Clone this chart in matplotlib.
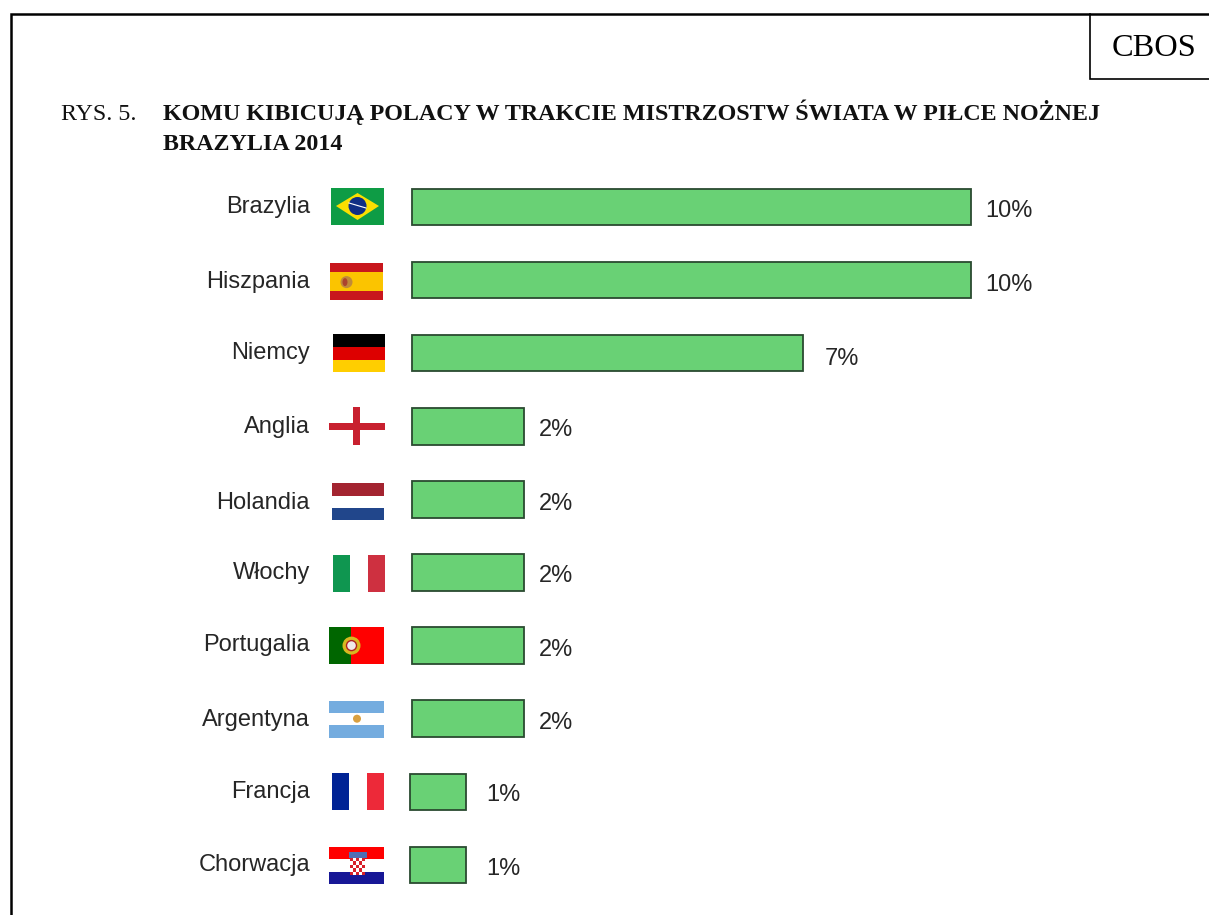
import matplotlib.pyplot as plt
from matplotlib.patches import Rectangle, Polygon, Circle, Ellipse

countries = ["Brazylia", "Hiszpania", "Niemcy", "Anglia", "Holandia",
             "Włochy", "Portugalia", "Argentyna", "Francja", "Chorwacja"]
values = [10, 10, 7, 2, 2, 2, 2, 2, 1, 1]
labels = ["10%", "10%", "7%", "2%", "2%", "2%", "2%", "2%", "1%", "1%"]

# small shifts seen in the original (pixels)
bar_shift = [0, 0, 0, 0, 0, 0, 0, 0, -2, -2]
value_gap = [14, 14, 21, 15, 15, 15, 15, 15, 18, 18]
value_dy = [4, 5, 6, 4, 5, 4, 4, 4, 3, 4]
name_dy = [0, 2, 0, 1, 4, 1, -1, 1, 0, 0]

W, H = 1209, 915
PX = 55.9
row_top = 207
row_step = 73.1
TITLE_SIZE = 17.3
LABEL_SIZE = 17

fig = plt.figure(figsize=(W / 100, H / 100), dpi=100)
fig.patch.set_facecolor("white")

# tlo w pikselach: ramka, teksty, flagi
bg = fig.add_axes([0, 0, 1, 1])
bg.set_xlim(0, W)
bg.set_ylim(H, 0)
bg.axis("off")

bg.plot([11, 11, W], [H, 14, 14], color="black", lw=1.8, solid_joinstyle="miter")
bg.plot([1090, 1090, W], [14, 79, 79], color="black", lw=1.2, solid_joinstyle="miter")
bg.text(1154, 48, "CBOS", family="Liberation Serif", fontsize=23.3,
        ha="center", va="center", color="black")

bg.text(61, 120, "RYS. 5.", family="Liberation Serif", fontsize=TITLE_SIZE, va="baseline", color="#111111")
bg.text(163, 120, "KOMU KIBICUJĄ POLACY W TRAKCIE MISTRZOSTW ŚWIATA W PIŁCE NOŻNEJ",
        family="Liberation Serif", weight="bold", fontsize=TITLE_SIZE, va="baseline", color="#111111")
bg.text(163, 150, "BRAZYLIA 2014", family="Liberation Serif", weight="bold",
        fontsize=TITLE_SIZE, va="baseline", color="#111111")


def stripes_h(x0, x1, y0, colors, fracs, h=37):
    y = y0
    for c, f in zip(colors, fracs):
        bg.add_patch(Rectangle((x0, y), x1 - x0, h * f, fc=c, ec="none"))
        y += h * f


def stripes_v(x0, y0, colors, fracs, w, h=37):
    x = x0
    for c, f in zip(colors, fracs):
        bg.add_patch(Rectangle((x, y0), w * f, h, fc=c, ec="none"))
        x += w * f


def flag_brazil(y):
    bg.add_patch(Rectangle((331, y - 19), 53, 37, fc="#0E9C45", ec="none"))
    bg.add_patch(Polygon([(336, y - 1), (357.5, y - 14), (379, y - 1), (357.5, y + 13)], fc="#FADF00", ec="none"))
    bg.add_patch(Circle((357.5, y - 1), 9, fc="#0F2F85", ec="none"))
    bg.plot([349, 366], [y - 4, y + 1], color="white", lw=0.8)


def flag_spain(y):
    stripes_h(329.5, 383, y - 17, ["#C8161D", "#FBC400", "#C8161D"], [0.25, 0.5, 0.25])
    bg.add_patch(Ellipse((346.5, y + 2), 12, 12, fc="#C08A3A", ec="none"))
    bg.add_patch(Ellipse((345, y + 2), 5, 8, fc="#A8322A", ec="none", alpha=0.8))


def flag_germany(y):
    stripes_h(333, 384.5, y - 19, ["#000000", "#DD0000", "#FFCE00"], [1 / 3, 1 / 3, 1 / 3], h=38)


def flag_england(y):
    bg.add_patch(Rectangle((329, y - 3.5), 56, 7, fc="#C8202F", ec="none"))
    bg.add_patch(Rectangle((352.5, y - 19), 7, 38, fc="#C8202F", ec="none"))


def flag_netherlands(y):
    stripes_h(332, 384, y - 16, ["#A32430", "#FFFFFF", "#21468B"], [1 / 3, 1 / 3, 1 / 3])


def flag_italy(y):
    stripes_v(333, y - 18, ["#0F9650", "#FFFFFF", "#CE3040"], [1 / 3, 1 / 3, 1 / 3], 52)


def flag_portugal(y):
    stripes_v(329, y - 19, ["#006600", "#FF0000"], [0.4, 0.6], 55)
    bg.add_patch(Circle((351.5, y), 9, fc="#D8B820", ec="none"))
    bg.add_patch(Circle((351.5, y), 5, fc="#F0E8E8", ec="#B02020", lw=1))


def flag_argentina(y):
    stripes_h(329, 384, y - 18, ["#74ACDF", "#FFFFFF", "#74ACDF"], [1 / 3, 1 / 3, 1 / 3])
    bg.add_patch(Circle((357, y), 4, fc="#D9A040", ec="none"))


def flag_france(y):
    stripes_v(332, y - 19, ["#002395", "#FFFFFF", "#ED2939"], [1 / 3, 1 / 3, 1 / 3], 52)


def flag_croatia(y):
    stripes_h(329, 384, y - 18, ["#FF0000", "#FFFFFF", "#171796"], [1 / 3, 1 / 3, 1 / 3])
    bg.add_patch(Rectangle((348.5, y - 13), 18, 6, fc="#4F6FB5", ec="none"))
    for r in range(5):
        for c in range(5):
            col = "#D8202A" if (r + c) % 2 == 0 else "white"
            bg.add_patch(Rectangle((350 + c * 3, y - 7 + r * 3.4), 3, 3.4, fc=col, ec="none"))


flags = [flag_brazil, flag_spain, flag_germany, flag_england, flag_netherlands,
         flag_italy, flag_portugal, flag_argentina, flag_france, flag_croatia]

for i, name in enumerate(countries):
    y = row_top + i * row_step
    bg.text(310, y + name_dy[i], name, family="Liberation Sans", fontsize=LABEL_SIZE,
            ha="right", va="center", color="#262626")
    flags[i](y)

# slupki
x0, x1 = 412, 412 + 10 * PX
y_hi = row_top - row_step / 2
y_lo = row_top + 9 * row_step + row_step / 2
ax = fig.add_axes([x0 / W, 1 - y_lo / H, (x1 - x0) / W, (y_lo - y_hi) / H])
ax.patch.set_alpha(0)
ax.axis("off")
ax.set_xlim(0, 10)
ax.set_ylim(9.5, -0.5)

lefts = [s / PX for s in bar_shift]
ax.barh(range(len(values)), values, left=lefts, height=0.5, color="#69D175",
        edgecolor="#2A4A30", linewidth=1.3, clip_on=False)

for i, v in enumerate(values):
    ax.annotate(labels[i], (v, i), xytext=(value_gap[i] * 0.72, -value_dy[i] * 0.72),
                textcoords="offset points", family="Liberation Sans", fontsize=LABEL_SIZE,
                ha="left", va="center", color="#262626", annotation_clip=False)

fig.savefig("out.png", dpi=100)
